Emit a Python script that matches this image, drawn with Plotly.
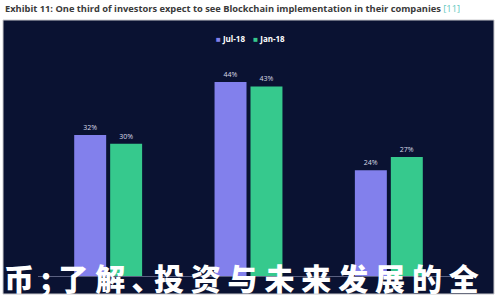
import plotly.graph_objects as go

categories = ["Group 1", "Group 2", "Group 3"]
series_names = ["Jul-18", "Jan-18"]
jul18 = [32, 44, 24]
jan18 = [30, 43, 27]
label_suffix = "%"

title_text = "Exhibit 11: One third of investors expect to see Blockchain implementation in their companies"
title_ref = "[11]"
overlay_text = "币;了解､投资与未来发展的全"

colors = ["#8280ec", "#36c98d"]
navy = "#0a1232"

# plot area in pixels
W, H = 500, 300
L, R, T, B = 38, 41, 30, 24
pw, ph = W - L - R, H - T - B
y_max = 55.8


def px_x(x):
    return (x - L) / pw


def px_y(y):
    return (H - B - y) / ph


fig = go.Figure()
for name, vals, c in zip(series_names, [jul18, jan18], colors):
    fig.add_trace(go.Bar(
        x=categories, y=vals, name=name, marker_color=c, marker_line_width=0,
        text=[f"{v}{label_suffix}" for v in vals], textposition="outside",
        textfont=dict(size=7, color="#d8dbe8", family="Open Sans"),
        cliponaxis=False, showlegend=False,
    ))

legend_html = "&nbsp;&nbsp;&nbsp;&nbsp;".join(
    f"<span style='color:{c}'>■</span>&nbsp;<b>{n}</b>" for n, c in zip(series_names, colors)
)

overlay = " ".join(overlay_text)

fig.update_layout(
    width=W, height=H,
    margin=dict(l=L, r=R, t=T, b=B),
    paper_bgcolor="white", plot_bgcolor="rgba(0,0,0,0)",
    barmode="group", bargap=0.4875, bargroupgap=0.111,
    showlegend=False,
    xaxis=dict(showticklabels=False, showgrid=False, zeroline=False,
               showline=True, linecolor="#5a6080", linewidth=1, ticks=""),
    yaxis=dict(range=[0, y_max], visible=False),
    shapes=[dict(type="rect", xref="paper", yref="paper", layer="below",
                 x0=px_x(3), x1=px_x(494), y0=px_y(294), y1=px_y(20),
                 fillcolor=navy, line=dict(color="#c8c8cc", width=1))],
    annotations=[
        dict(xref="paper", yref="paper", x=px_x(3), y=px_y(9), xanchor="left",
             yanchor="middle", showarrow=False,
             text=f"<b>{title_text}</b> <span style='color:#63c9c0'>{title_ref}</span>",
             font=dict(size=9.3, color="#3a3a3a", family="Open Sans")),
        dict(xref="paper", yref="paper", x=px_x(250), y=px_y(39), xanchor="center",
             yanchor="middle", showarrow=False, text=legend_html,
             font=dict(size=8, color="white", family="Open Sans")),
        dict(xref="paper", yref="paper", x=px_x(2), y=px_y(277), xanchor="left",
             yanchor="middle", showarrow=False, text=overlay,
             font=dict(size=30, color="white", family="Noto Sans CJK SC", weight=900)),
    ],
)

fig.write_html("out.html")
